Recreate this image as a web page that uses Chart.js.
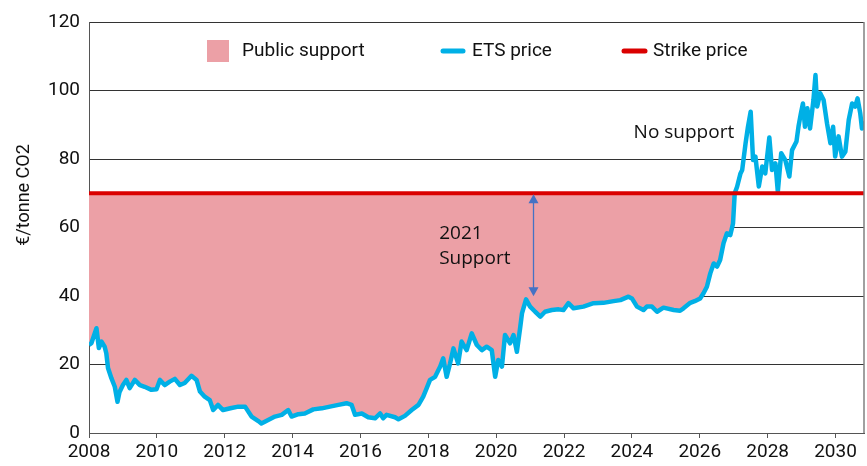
<!DOCTYPE html>
<html><head><meta charset="utf-8">
<script src="https://cdn.jsdelivr.net/npm/chart.js@4.4.0/dist/chart.umd.min.js"></script>
<style>html,body{margin:0;padding:0;background:#fff;}#wrap{width:867px;height:466px;}</style>
</head><body><div id="wrap"><canvas id="c" width="867" height="466"></canvas></div>
<script>
const etsYears = [2008.00,2008.07,2008.22,2008.29,2008.37,2008.46,2008.51,2008.56,2008.66,2008.76,2008.84,2008.90,2009.00,2009.10,2009.20,2009.35,2009.50,2009.64,2009.84,2009.99,2010.09,2010.23,2010.38,2010.53,2010.68,2010.82,2011.02,2011.17,2011.27,2011.41,2011.56,2011.66,2011.80,2011.95,2012.20,2012.40,2012.60,2012.79,2012.99,2013.08,2013.28,2013.48,2013.68,2013.87,2013.97,2014.17,2014.36,2014.61,2014.86,2015.10,2015.35,2015.59,2015.74,2015.84,2016.04,2016.23,2016.43,2016.58,2016.67,2016.77,2017.02,2017.12,2017.31,2017.51,2017.71,2017.85,2017.95,2018.05,2018.20,2018.35,2018.44,2018.54,2018.64,2018.74,2018.88,2018.98,2019.13,2019.28,2019.43,2019.58,2019.72,2019.87,2019.97,2020.06,2020.17,2020.26,2020.41,2020.51,2020.61,2020.71,2020.76,2020.88,2021.00,2021.15,2021.30,2021.44,2021.64,2021.84,2021.98,2022.13,2022.28,2022.57,2022.87,2023.16,2023.46,2023.66,2023.90,2024.00,2024.15,2024.34,2024.44,2024.59,2024.74,2024.93,2025.23,2025.42,2025.52,2025.72,2025.85,2026.01,2026.11,2026.21,2026.31,2026.41,2026.51,2026.60,2026.70,2026.80,2026.90,2026.98,2027.03,2027.10,2027.20,2027.25,2027.35,2027.42,2027.50,2027.57,2027.64,2027.74,2027.84,2027.93,2028.05,2028.13,2028.23,2028.30,2028.40,2028.52,2028.64,2028.72,2028.85,2028.91,2028.98,2029.04,2029.10,2029.17,2029.25,2029.35,2029.41,2029.46,2029.55,2029.65,2029.75,2029.85,2029.93,2029.99,2030.09,2030.19,2030.29,2030.39,2030.49,2030.58,2030.65,2030.73,2030.78,2030.84];
const etsPrices = [25.7,26.2,30.6,24.8,26.7,25.2,23.3,19.0,16.0,13.5,9.1,12.0,14.0,15.5,13.1,15.5,14.0,13.5,12.6,12.8,15.5,14.0,15.0,15.8,14.0,14.6,16.7,15.5,12.1,10.6,9.6,6.7,8.2,6.7,7.3,7.7,7.7,4.8,3.5,2.8,3.8,4.8,5.3,6.7,4.8,5.5,5.7,6.9,7.2,7.7,8.2,8.7,8.2,5.3,5.7,4.6,4.3,5.7,4.3,5.3,4.6,4.0,5.0,6.7,8.2,10.6,13.0,15.5,16.4,19.4,21.8,16.4,20.3,24.7,20.3,26.7,24.2,29.1,25.7,24.2,25.2,24.2,16.4,21.3,19.4,28.6,26.2,28.6,23.7,31.0,34.9,39.0,36.9,35.4,34.0,35.4,35.9,36.1,35.9,37.9,36.4,36.9,37.9,38.0,38.5,38.8,39.8,39.3,36.9,35.9,36.9,36.9,35.4,36.6,35.9,35.7,36.4,38.0,38.5,39.3,40.8,42.7,46.6,49.5,48.6,50.5,55.4,58.3,57.8,61.2,70.0,71.9,75.8,76.8,84.6,89.4,93.8,79.7,80.7,72.0,77.8,75.8,86.3,76.8,78.7,70.5,81.7,79.7,74.9,82.6,85.1,89.5,93.3,96.2,89.4,94.8,88.9,97.2,104.5,95.3,99.2,97.2,90.4,84.6,89.4,80.7,86.6,80.7,82.1,91.4,96.2,95.3,97.7,93.3,88.9,91.0];
const strikeYears = [2008, 2030.84];
const strikePrices = [70, 70];
const xMin = 2008, xMax = 2030.84, xStep = 2;
const yMin = 0, yMax = 120, yStep = 20;
const legendLabels = ['Public support', 'ETS price', 'Strike price'];
const yTitle = '€/tonne CO2';
const supportLines = ['2021', 'Support'];
const noSupportText = 'No support';
const arrowYear = 2021.1, arrowFrom = 70, arrowTo = 39.6;

const PINK = 'rgb(236,160,166)';
const BLUE = 'rgb(0,176,230)';
const RED = 'rgb(218,0,0)';
const TICKFONT = 'Roboto';
const ANNFONT = "'Open Sans'";

const extras = {
  id: 'extras',
  afterDatasetsDraw(chart) {
    const ctx = chart.ctx, a = chart.chartArea;
    const xs = chart.scales.x, ys = chart.scales.y;
    ctx.save();
    // right border
    ctx.strokeStyle = '#808080'; ctx.lineWidth = 1.5;
    ctx.beginPath(); ctx.moveTo(a.right, a.top); ctx.lineTo(a.right, a.bottom); ctx.stroke();
    // legend
    const ly = a.top + 29;
    ctx.font = '19px ' + TICKFONT; ctx.textBaseline = 'middle';
    ctx.fillStyle = PINK; ctx.fillRect(a.left + 118, ly - 11, 22, 22);
    ctx.fillStyle = '#111'; ctx.textAlign = 'left';
    ctx.fillText(legendLabels[0], a.left + 153, ly);
    ctx.lineCap = 'round'; ctx.lineWidth = 5;
    ctx.strokeStyle = BLUE; ctx.beginPath(); ctx.moveTo(a.left + 354, ly); ctx.lineTo(a.left + 374, ly); ctx.stroke();
    ctx.fillText(legendLabels[1], a.left + 383, ly);
    ctx.strokeStyle = RED; ctx.beginPath(); ctx.moveTo(a.left + 535, ly); ctx.lineTo(a.left + 556, ly); ctx.stroke();
    ctx.fillText(legendLabels[2], a.left + 564, ly);
    // annotations
    ctx.font = '19px ' + ANNFONT; ctx.fillStyle = '#111'; ctx.textBaseline = 'alphabetic';
    const tx = xs.getPixelForValue(2018.32);
    ctx.fillText(supportLines[0], tx, ys.getPixelForValue(56.7));
    ctx.fillText(supportLines[1], tx, ys.getPixelForValue(49.2));
    ctx.fillText(noSupportText, xs.getPixelForValue(2024.05), ys.getPixelForValue(86.0));
    // arrow
    const ax = xs.getPixelForValue(arrowYear);
    const y1 = ys.getPixelForValue(arrowFrom), y2 = ys.getPixelForValue(arrowTo);
    ctx.strokeStyle = '#4472C4'; ctx.fillStyle = '#4472C4'; ctx.lineWidth = 1.3; ctx.lineCap = 'butt';
    ctx.beginPath(); ctx.moveTo(ax, y1 + 8); ctx.lineTo(ax, y2 - 8); ctx.stroke();
    ctx.beginPath(); ctx.moveTo(ax, y1 + 1); ctx.lineTo(ax - 5, y1 + 10); ctx.lineTo(ax + 5, y1 + 10); ctx.closePath(); ctx.fill();
    ctx.beginPath(); ctx.moveTo(ax, y2 - 1); ctx.lineTo(ax - 5, y2 - 10); ctx.lineTo(ax + 5, y2 - 10); ctx.closePath(); ctx.fill();
    // y title
    ctx.translate(24, a.top + 173);
    ctx.rotate(-Math.PI / 2);
    ctx.font = '18px ' + TICKFONT; ctx.fillStyle = '#111'; ctx.textAlign = 'center'; ctx.textBaseline = 'middle';
    ctx.fillText(yTitle, 0, 0);
    ctx.restore();
  }
};

new Chart(document.getElementById('c'), {
  type: 'line',
  data: {
    datasets: [
      { label: legendLabels[2], data: strikeYears.map((x, i) => ({x, y: strikePrices[i]})),
        borderColor: RED, borderWidth: 4, pointRadius: 0, fill: false },
      { label: legendLabels[1], data: etsYears.map((x, i) => ({x, y: etsPrices[i]})),
        borderColor: BLUE, borderWidth: 4.5, pointRadius: 0, tension: 0, borderJoinStyle: 'round',
        backgroundColor: PINK,
        fill: { target: { value: 70 }, above: 'rgba(0,0,0,0)', below: PINK } }
    ]
  },
  options: {
    responsive: false, animation: false, devicePixelRatio: 1,
    layout: { padding: { top: 22, right: 3, left: 0, bottom: 0 } },
    plugins: { legend: { display: false }, tooltip: { enabled: false } },
    scales: {
      x: { type: 'linear', min: xMin, max: xMax,
        afterFit(s) { s.height = 33; },
        ticks: { stepSize: xStep, includeBounds: false, autoSkip: false, maxRotation: 0,
          color: '#111', font: { family: TICKFONT, size: 19 }, padding: 3,
          callback: v => String(v) },
        grid: { drawOnChartArea: false, drawTicks: true, tickLength: 5, color: '#555' },
        border: { display: true, color: '#555', width: 1 } },
      y: { min: yMin, max: yMax,
        afterFit(s) { s.width = 89; },
        ticks: { stepSize: yStep, color: '#111', font: { family: TICKFONT, size: 19 }, padding: 9 },
        grid: { drawTicks: false, color: '#333', lineWidth: 1 },
        border: { display: true, color: '#555', width: 1 } }
    }
  },
  plugins: [extras]
});
</script></body></html>
